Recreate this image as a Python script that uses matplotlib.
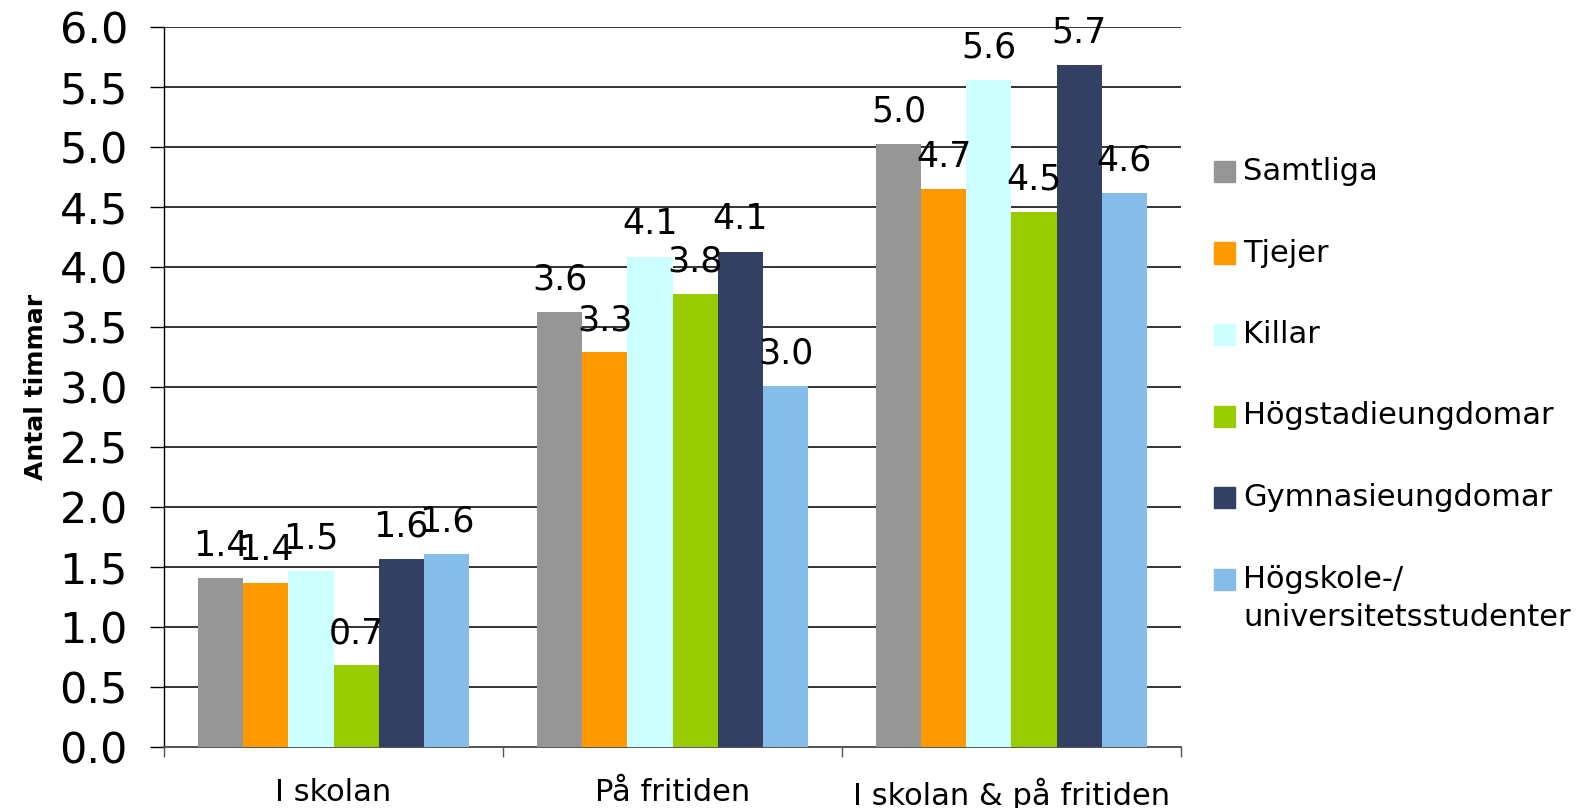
import matplotlib
matplotlib.use("Agg")
import matplotlib.pyplot as plt
from matplotlib.patches import Rectangle
import numpy as np

categories = ["I skolan", "På fritiden", "I skolan & på fritiden"]
series = ["Samtliga", "Tjejer", "Killar", "Högstadieungdomar",
          "Gymnasieungdomar", "Högskole-/\nuniversitetsstudenter"]
samtliga = [1.41, 3.63, 5.03]
tjejer = [1.37, 3.29, 4.65]
killar = [1.47, 4.09, 5.56]
hogstadie = [0.68, 3.78, 4.46]
gymnasie = [1.57, 4.13, 5.69]
hogskole = [1.61, 3.01, 4.62]
values = [samtliga, tjejer, killar, hogstadie, gymnasie, hogskole]
colors = ["#969696", "#FF9900", "#CCFFFF", "#99CC00", "#334064", "#85BDE8"]
yticks = [0.0, 0.5, 1.0, 1.5, 2.0, 2.5, 3.0, 3.5, 4.0, 4.5, 5.0, 5.5, 6.0]

plt.rcParams["font.family"] = ["DejaVu Sans"]

W, H = 1585, 808
fig = plt.figure(figsize=(W / 100, H / 100), dpi=100)
ax = fig.add_axes([0.1035, 0.0755, 0.6416, 0.8905])

x = np.arange(len(categories))
width = 0.8 / len(series)
for i, (name, vals, col) in enumerate(zip(series, values, colors)):
    pos = x - 0.4 + width * (i + 0.5)
    bars = ax.bar(pos, vals, width=width, color=col, label=name, zorder=3)
    for b, v in zip(bars, vals):
        ax.annotate(f"{v:.1f}", (b.get_x() + b.get_width() / 2, v),
                    xytext=(0, 11), textcoords="offset points",
                    ha="center", va="bottom", fontsize=25, zorder=4)

ax.set_ylim(0, 6.0)
ax.set_xlim(-0.5, len(categories) - 0.5)
ax.set_yticks(yticks)
ax.set_yticklabels([f"{t:.1f}" for t in yticks], fontsize=31)
ax.tick_params(axis="y", length=10, width=1, pad=16, direction="out")
ax.yaxis.grid(True, color="#333333", linewidth=1.4, zorder=0)

# category separators as major ticks, names as minor ticks
ax.set_xticks(np.arange(len(categories) + 1) - 0.5)
ax.set_xticklabels([])
ax.set_xticks(x, minor=True)
ax.set_xticklabels(categories, minor=True, fontsize=22)
ax.tick_params(axis="x", which="major", length=7, width=1, color="#555555")
ax.tick_params(axis="x", which="minor", length=0, pad=22)

for s in ["top", "right"]:
    ax.spines[s].set_visible(False)
ax.spines["left"].set_color("black")
ax.spines["left"].set_linewidth(1)
ax.spines["bottom"].set_color("#555555")
ax.spines["bottom"].set_linewidth(1.4)

ax.set_ylabel("Antal timmar", fontsize=18, fontweight="bold", labelpad=8)

# legend drawn by hand so the two-line entry keeps its square on the first line
sq = 21
for i, (name, col) in enumerate(zip(series, colors)):
    yc = 171.5 + 81.5 * i
    fig.patches.append(Rectangle((1214 / W, 1 - (yc + sq / 2) / H), sq / W, sq / H,
                                 transform=fig.transFigure, color=col))
    for j, line in enumerate(name.split("\n")):
        fig.text(1243 / W, 1 - (yc + 38 * j) / H, line, fontsize=22,
                 ha="left", va="center")

fig.savefig("out.png", dpi=100)
